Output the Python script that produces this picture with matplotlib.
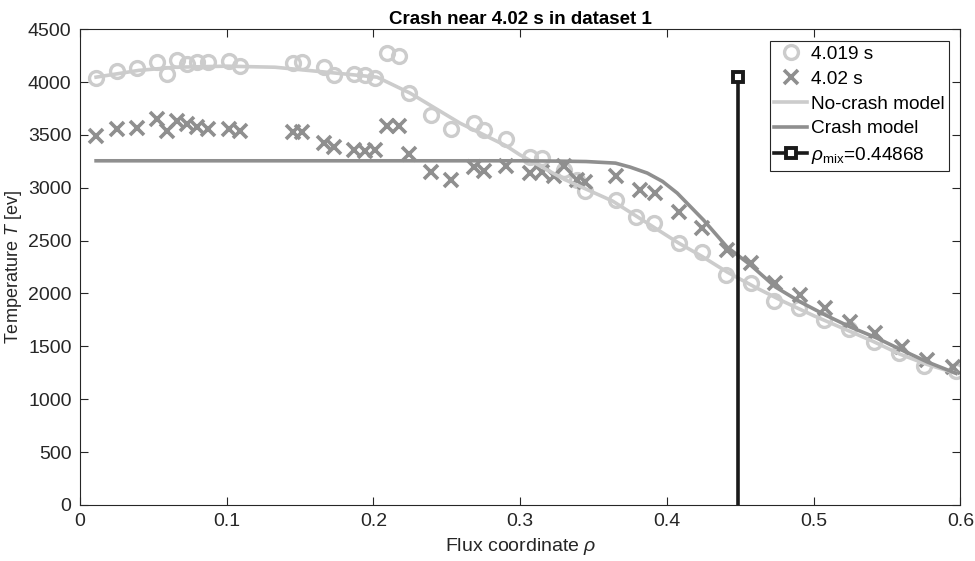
import matplotlib.pyplot as plt

plt.rcParams['font.family'] = ['Liberation Sans', 'DejaVu Sans']
plt.rcParams['mathtext.fontset'] = 'custom'
plt.rcParams['mathtext.rm'] = 'Liberation Sans'
plt.rcParams['mathtext.it'] = 'Liberation Sans:italic'

# measured profile at 4.019 s (before crash)
rho_pre = [0.011, 0.025, 0.039, 0.0525, 0.059, 0.066, 0.073, 0.080, 0.087, 0.1016, 0.109,
           0.145, 0.151, 0.166, 0.173, 0.187, 0.194, 0.201, 0.209, 0.2175, 0.224, 0.239,
           0.253, 0.2686, 0.2755, 0.2905, 0.307, 0.315, 0.330, 0.339, 0.344, 0.365, 0.379,
           0.391, 0.408, 0.424, 0.4405, 0.457, 0.473, 0.490, 0.507, 0.524, 0.541, 0.558,
           0.575, 0.597]
T_pre = [4040, 4100, 4130, 4190, 4075, 4210, 4170, 4190, 4190, 4195, 4150,
         4180, 4190, 4140, 4065, 4075, 4065, 4040, 4275, 4245, 3900, 3690,
         3560, 3610, 3545, 3460, 3290, 3280, 3170, 3070, 2965, 2880, 2725,
         2670, 2477, 2392, 2174, 2100, 1925, 1860, 1750, 1660, 1540, 1435,
         1310, 1270]

# measured profile at 4.02 s (after crash)
rho_post = [0.011, 0.025, 0.039, 0.0525, 0.059, 0.066, 0.073, 0.080, 0.087, 0.1016, 0.109,
            0.145, 0.151, 0.166, 0.173, 0.187, 0.194, 0.201, 0.209, 0.2175, 0.224, 0.239,
            0.253, 0.2686, 0.2755, 0.2905, 0.307, 0.315, 0.323, 0.330, 0.339, 0.344,
            0.365, 0.382, 0.392, 0.408, 0.424, 0.441, 0.457, 0.474, 0.491, 0.508, 0.525,
            0.542, 0.560, 0.577, 0.595]
T_post = [3490, 3555, 3565, 3650, 3536, 3630, 3600, 3573, 3555, 3555, 3536,
          3526, 3526, 3422, 3384, 3356, 3347, 3356, 3583, 3583, 3318, 3148,
          3072, 3195, 3158, 3205, 3139, 3148, 3110, 3210, 3070, 3050,
          3110, 2980, 2950, 2770, 2620, 2411, 2288, 2099, 1985, 1862, 1730,
          1626, 1494, 1371, 1305]

# fitted models
rho_nc = [0.011, 0.04, 0.065, 0.10, 0.133, 0.168, 0.2025, 0.225, 0.259, 0.29, 0.30, 0.33,
          0.363, 0.385, 0.408, 0.424, 0.441, 0.46, 0.48, 0.50, 0.52, 0.54, 0.559, 0.577, 0.597]
T_nc = [4046, 4110, 4140, 4150, 4140, 4093, 4046, 3895, 3611, 3400, 3310, 3080,
        2874, 2680, 2477, 2350, 2203, 2060, 1920, 1790, 1670, 1550, 1425, 1330, 1245]

rho_c = [0.011, 0.30, 0.327, 0.345, 0.365, 0.375, 0.3866, 0.397, 0.407, 0.425, 0.441,
         0.457, 0.474, 0.491, 0.508, 0.525, 0.543, 0.560, 0.5775, 0.597]
T_c = [3255, 3255, 3252, 3248, 3233, 3195, 3139, 3060, 2950, 2694, 2439,
       2269, 2061, 1919, 1796, 1683, 1579, 1465, 1352, 1245]

rho_mix = 0.44868
T_mix_top = 4050

fig = plt.figure(figsize=(9.75, 5.61), dpi=100)
ax = fig.add_axes([0.082, 0.1, 0.903, 0.848])

light = '#cccccc'
dark = '#8f8f8f'

ax.plot(rho_pre, T_pre, 'o', ls='none', mfc='none', mec=light, ms=10, mew=2.4, label='4.019 s')
ax.plot(rho_post, T_post, 'x', ls='none', mec=dark, ms=10, mew=2.6, label='4.02 s')
ax.plot(rho_nc, T_nc, '-', color=light, lw=2.6, label='No-crash model')
ax.plot(rho_c, T_c, '-', color=dark, lw=2.6, label='Crash model')
ax.plot([rho_mix, rho_mix], [0, T_mix_top], '-', color='#1a1a1a', lw=2.6,
        marker='s', markevery=[1], ms=7, mfc='white', mec='#1a1a1a', mew=2.8,
        label=r'$\rho_{\mathrm{mix}}$=0.44868')

ax.set_xlim(0, 0.6)
ax.set_ylim(0, 4500)
ax.set_xticks([0, 0.1, 0.2, 0.3, 0.4, 0.5, 0.6])
ax.set_xticklabels(['0', '0.1', '0.2', '0.3', '0.4', '0.5', '0.6'])
ax.set_yticks(range(0, 4501, 500))
ax.tick_params(direction='in', top=True, right=True, length=6, labelsize=14,
               colors='#262626', width=0.8, pad=6)
for s in ax.spines.values():
    s.set_color('#262626')
    s.set_linewidth(0.8)

ax.set_xlabel(r'Flux coordinate $\rho$', fontsize=14, color='#262626', labelpad=4)
ax.set_ylabel(r'Temperature $T$ [ev]', fontsize=13, color='#262626', labelpad=3)
ax.set_title('Crash near 4.02 s in dataset 1', fontsize=13.5, fontweight='bold', pad=4)

leg = ax.legend(loc='upper right', fontsize=13.7, fancybox=False, framealpha=1,
                edgecolor='#262626', handlelength=1.7, handletextpad=0.2,
                borderpad=0.25, labelspacing=0.4, borderaxespad=0.6)
leg.get_frame().set_linewidth(0.8)

fig.savefig('out.png', dpi=100)
